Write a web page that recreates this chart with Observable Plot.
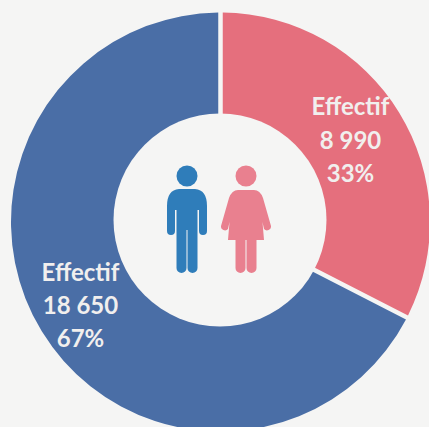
<!DOCTYPE html>
<html>
<head>
<meta charset="utf-8">
<script src="https://cdn.jsdelivr.net/npm/d3@7"></script>
<script src="https://cdn.jsdelivr.net/npm/@observablehq/plot@0.6"></script>
<style>
html,body{margin:0;padding:0;background:#f5f5f4;overflow:hidden}
svg{display:block}
</style>
</head>
<body>
<div id="chart"></div>
<script>
const categories = ["Femmes", "Hommes"];
const effectifs = [8990, 18650];
const effectifLabels = ["8 990", "18 650"];
const percentLabels = ["33%", "67%"];
const sliceColors = ["#e56f7d", "#4a6ea6"];
const iconColors = ["#e9808f", "#2f7dba"];
const labelX = [129.5, -140.5];
const labelY = [-84.5, 81];
const iconX = [25.5, -33.5];
const iconY = [-46, -46];
const background = "#f5f5f4";

const rows = categories.map((c, i) => ({
  category: c,
  value: effectifs[i],
  text: `Effectif\n${effectifLabels[i]}\n${percentLabels[i]}`,
  x: labelX[i],
  y: labelY[i]
}));

const manPath = "M-8,13Q-20,14-20,30L-20,55A4,4 0 0 0-12,55L-12,34L-10.5,34L-10.5,92A5,5 0 0 0-0.5,92L-0.5,54L0.5,54L0.5,92A5,5 0 0 0 10.5,92L10.5,34L12,34L12,55A4,4 0 0 0 20,55L20,30Q20,14 8,13Z";
const womanPath = "M-8,14Q-14,14-17,22L-25,50A4,4 0 0 0-18,53L-16.5,46L-18,64L-10.5,64L-10.5,92A5,5 0 0 0-0.5,92L-0.5,64L0.5,64L0.5,92A5,5 0 0 0 10.5,92L10.5,64L18,64L16.5,46L18,53A4,4 0 0 0 25,50L17,22Q14,14 8,14Z";
const iconPaths = [womanPath, manPath];

function donut(index, {x, y}) {
  const g = d3.create("svg:g");
  const ring = g.append("g").attr("transform", `translate(${x(0)},${y(0)})`);
  const pie = d3.pie().sort(null).value(d => d.value)(rows);
  const arc = d3.arc().innerRadius(x(100) - x(0)).outerRadius(x(209.5) - x(0)).padAngle(0.0215).padRadius(209.5);
  ring.selectAll("path").data(pie).join("path")
    .attr("d", arc)
    .attr("fill", (d, i) => sliceColors[i]);
  g.append("circle")
    .attr("cx", x(-0.5)).attr("cy", y(-2))
    .attr("r", x(106.5) - x(0))
    .attr("fill", background);
  return g.node();
}

function icons(index, {x, y}) {
  const g = d3.create("svg:g");
  categories.forEach((c, i) => {
    const p = g.append("g").attr("transform", `translate(${x(iconX[i])},${y(iconY[i])})`).attr("fill", iconColors[i]);
    p.append("circle").attr("r", 10.5);
    p.append("path").attr("d", iconPaths[i]);
  });
  return g.node();
}

const chart = Plot.plot({
  width: 429,
  height: 427,
  margin: 0,
  style: {background},
  x: {domain: [-220.5, 208.5], range: [0, 429], axis: null},
  y: {domain: [-222, 205], range: [0, 427], axis: null},
  marks: [
    donut,
    icons,
    Plot.text(rows, {
      x: "x",
      y: "y",
      text: "text",
      fill: "#f1efee",
      fontFamily: "Lato",
      fontWeight: 700,
      fontSize: 24,
      lineHeight: 1.38,
      lineAnchor: "middle",
      textAnchor: "middle"
    })
  ]
});
document.getElementById("chart").appendChild(chart);
</script>
</body>
</html>
